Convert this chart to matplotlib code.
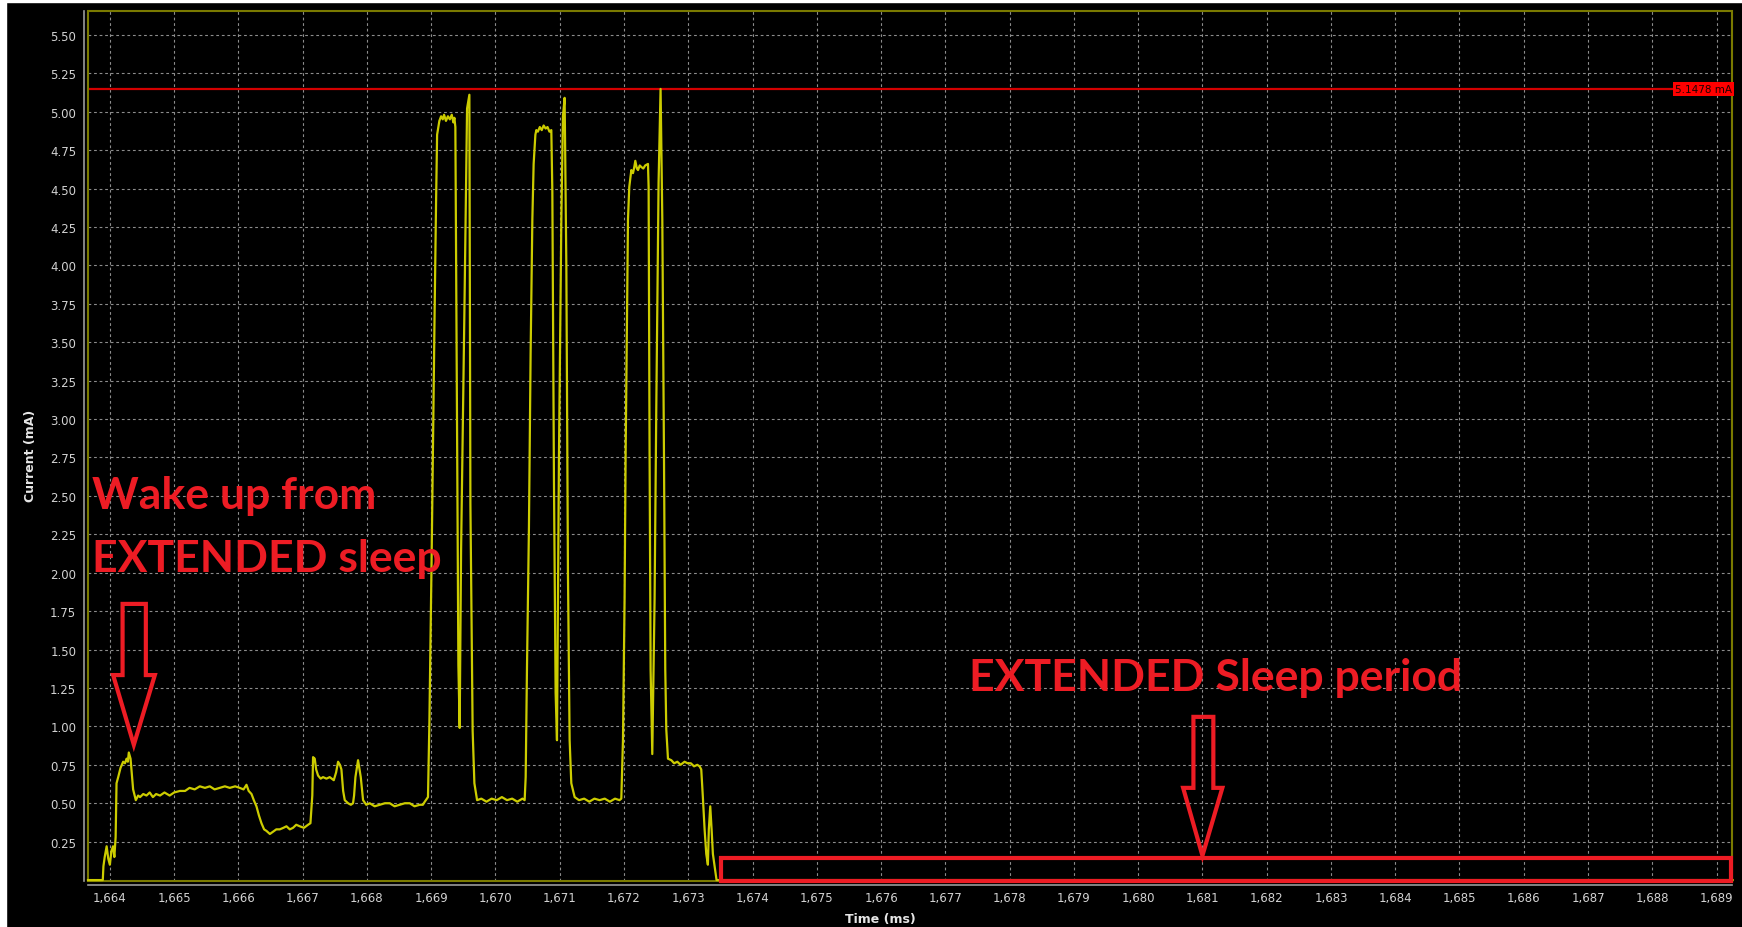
import matplotlib
matplotlib.use("Agg")
import matplotlib.pyplot as plt
from matplotlib.patches import Polygon, Rectangle
from matplotlib.ticker import FuncFormatter

# Current trace (time in ms, current in mA)
time_ms = [
    1663.66, 1663.89, 1663.90, 1663.92, 1663.95, 1663.975, 1664.00, 1664.025, 1664.05, 1664.07,
    1664.09, 1664.104, 1664.13, 1664.166, 1664.207, 1664.235, 1664.26, 1664.28, 1664.295, 1664.322,
    1664.362, 1664.404, 1664.44, 1664.47, 1664.52, 1664.57, 1664.62, 1664.67, 1664.72, 1664.78,
    1664.85, 1664.93, 1665.00, 1665.09, 1665.17, 1665.24, 1665.32, 1665.40, 1665.48, 1665.555,
    1665.63, 1665.71, 1665.79, 1665.866, 1665.95, 1666.02, 1666.08, 1666.126, 1666.16, 1666.204,
    1666.24, 1666.281, 1666.32, 1666.359, 1666.40, 1666.437, 1666.49, 1666.54, 1666.59, 1666.644,
    1666.70, 1666.748, 1666.80, 1666.85, 1666.90, 1666.955, 1667.02, 1667.084, 1667.121, 1667.15,
    1667.162, 1667.188, 1667.21, 1667.24, 1667.28, 1667.317, 1667.37, 1667.421, 1667.484, 1667.52,
    1667.551, 1667.58, 1667.603, 1667.63, 1667.655, 1667.707, 1667.75, 1667.784, 1667.80, 1667.821,
    1667.862, 1667.904, 1667.94, 1667.99, 1668.044, 1668.12, 1668.20, 1668.28, 1668.355, 1668.43,
    1668.51, 1668.59, 1668.666, 1668.74, 1668.821, 1668.87, 1668.90, 1668.95,
    # first burst
    1668.972, 1669.008, 1669.050, 1669.076, 1669.092, 1669.127, 1669.154, 1669.18, 1669.20, 1669.23,
    1669.26, 1669.29, 1669.32, 1669.345, 1669.361, 1669.376, 1669.397, 1669.423, 1669.443, 1669.465,
    1669.516, 1669.558, 1669.594, 1669.610, 1669.645, 1669.672, 1669.714, 1669.78, 1669.86, 1669.94,
    1670.02, 1670.10, 1670.18, 1670.26, 1670.34, 1670.42, 1670.454,
    # second burst
    1670.470, 1670.490, 1670.521, 1670.547, 1670.574, 1670.594, 1670.621, 1670.636, 1670.66, 1670.69,
    1670.72, 1670.75, 1670.78, 1670.81, 1670.84, 1670.869, 1670.885, 1670.910, 1670.936, 1670.957,
    1670.988, 1671.025, 1671.050, 1671.076, 1671.103, 1671.128, 1671.154, 1671.180, 1671.232, 1671.30,
    1671.38, 1671.46, 1671.54, 1671.62, 1671.70, 1671.78, 1671.86, 1671.93, 1671.958,
    # third burst
    1671.984, 1672.009, 1672.025, 1672.047, 1672.062, 1672.082, 1672.114, 1672.140, 1672.16, 1672.176,
    1672.20, 1672.218, 1672.245, 1672.269, 1672.30, 1672.33, 1672.373, 1672.383, 1672.398, 1672.414,
    1672.440, 1672.476, 1672.502, 1672.538, 1672.569, 1672.596, 1672.622, 1672.642, 1672.658, 1672.684,
    1672.736, 1672.78, 1672.83, 1672.88, 1672.942, 1672.99, 1673.04, 1673.09, 1673.14, 1673.176,
    1673.202, 1673.227, 1673.254, 1673.28, 1673.305, 1673.32, 1673.342, 1673.363, 1673.383, 1673.41,
    1673.44, 1689.25,
]
current_ma = [
    0.0, 0.0, 0.09, 0.15, 0.22, 0.14, 0.10, 0.19, 0.22, 0.15,
    0.28, 0.63, 0.67, 0.73, 0.77, 0.76, 0.79, 0.77, 0.83, 0.79,
    0.59, 0.52, 0.55, 0.54, 0.56, 0.55, 0.57, 0.54, 0.56, 0.55,
    0.57, 0.55, 0.57, 0.58, 0.58, 0.60, 0.59, 0.61, 0.60, 0.61,
    0.59, 0.60, 0.61, 0.60, 0.61, 0.60, 0.59, 0.62, 0.58, 0.56,
    0.52, 0.48, 0.42, 0.37, 0.33, 0.32, 0.30, 0.315, 0.33, 0.33,
    0.34, 0.35, 0.33, 0.34, 0.36, 0.35, 0.34, 0.36, 0.37, 0.55,
    0.80, 0.79, 0.72, 0.68, 0.66, 0.67, 0.66, 0.67, 0.65, 0.70,
    0.77, 0.75, 0.72, 0.58, 0.52, 0.50, 0.49, 0.50, 0.55, 0.67,
    0.78, 0.67, 0.52, 0.49, 0.50, 0.48, 0.49, 0.50, 0.50, 0.48,
    0.49, 0.50, 0.50, 0.48, 0.49, 0.49, 0.51, 0.54,
    1.03, 2.14, 3.59, 4.42, 4.85, 4.94, 4.97, 4.95, 4.98, 4.94,
    4.97, 4.95, 4.98, 4.93, 4.96, 4.90, 3.37, 1.40, 0.99, 2.14,
    3.68, 5.02, 5.11, 2.45, 0.97, 0.63, 0.52, 0.53, 0.51, 0.53,
    0.52, 0.54, 0.52, 0.53, 0.51, 0.53, 0.52,
    0.67, 1.37, 2.30, 3.43, 4.30, 4.66, 4.85, 4.88, 4.87, 4.90,
    4.88, 4.91, 4.89, 4.90, 4.87, 4.88, 4.48, 2.60, 1.22, 0.91,
    2.76, 4.30, 4.97, 5.09, 3.99, 1.99, 0.91, 0.63, 0.54, 0.52,
    0.53, 0.51, 0.53, 0.52, 0.53, 0.51, 0.53, 0.52, 0.53,
    0.91, 1.83, 2.76, 3.68, 4.30, 4.51, 4.62, 4.60, 4.64, 4.68,
    4.63, 4.62, 4.65, 4.64, 4.63, 4.65, 4.66, 4.51, 2.76, 1.37,
    0.82, 1.83, 3.06, 4.54, 5.1478, 4.30, 2.76, 1.37, 0.98, 0.79,
    0.78, 0.76, 0.77, 0.75, 0.77, 0.76, 0.76, 0.74, 0.75, 0.74,
    0.72, 0.54, 0.33, 0.17, 0.10, 0.33, 0.48, 0.33, 0.17, 0.09,
    0.0, 0.0,
]

peak_ma = 5.1478
x_ticks = list(range(1664, 1690))
y_ticks = [0.25 * k for k in range(1, 23)]

red = '#ed1c24'
olive = '#7a7a00'

fig = plt.figure(figsize=(17.42, 9.28), dpi=100, facecolor='black')
ax = fig.add_axes([88 / 1742, 46 / 928, 1644 / 1742, 870 / 928])
ax.set_facecolor('black')

ax.plot(time_ms, current_ma, color='#cccc00', lw=1.6, zorder=3, clip_on=False)

# marker line at the peak value
ax.axhline(peak_ma, color='#d40000', lw=1.6, zorder=2)
ax.text(1.0, peak_ma, '%.4f mA' % peak_ma, transform=ax.get_yaxis_transform(),
        ha='right', va='center', fontsize=7.5, color='#200000',
        bbox=dict(boxstyle='square,pad=0.15', fc='#ff0000', ec='none'), zorder=4)

ax.set_xlim(1663.66, 1689.24)
ax.set_ylim(-0.006, 5.655)
ax.set_xticks(x_ticks)
ax.set_yticks(y_ticks)
ax.xaxis.set_major_formatter(FuncFormatter(lambda v, p: '{:,}'.format(int(round(v)))))
ax.yaxis.set_major_formatter(FuncFormatter(lambda v, p: '%.2f' % v))
ax.grid(True, color='#8c8c8c', lw=0.8, ls=(0, (2.5, 2.5)))
ax.set_axisbelow(True)

ax.tick_params(length=0, colors='#d2d2d2', labelsize=8.5)
ax.tick_params(axis='y', pad=5.5)
ax.tick_params(axis='x', pad=4.5)

for side in ['top', 'right']:
    ax.spines[side].set_visible(False)
for side in ['left', 'bottom']:
    ax.spines[side].set_color('#9a9a9a')
    ax.spines[side].set_linewidth(1.2)
    ax.spines[side].set_position(('outward', 3))
ax.add_patch(Rectangle((0, 0), 1, 1, transform=ax.transAxes, fill=False,
                       ec=olive, lw=1.5, clip_on=False, zorder=2.5))

ax.set_xlabel('Time (ms)', color='#e6e6e6', fontsize=9, fontweight='bold')
ax.set_ylabel('Current (mA)', color='#e6e6e6', fontsize=9, fontweight='bold')
ax.xaxis.set_label_coords(0.482, -0.036)
ax.yaxis.set_label_coords(-0.031, 0.49)

# annotations
note_style = dict(color=red, fontsize=32, family='Lato', fontweight='bold',
                  ha='left', va='baseline')
ax.text(1663.72, 2.42, 'Wake up from', **note_style)
ax.text(1663.72, 2.01, 'EXTENDED sleep', **note_style)
ax.text(1677.37, 1.24, 'EXTENDED Sleep period', **note_style)

arrow1 = [(1664.198, 1.797), (1664.560, 1.797), (1664.560, 1.334), (1664.70, 1.334),
          (1664.373, 0.880), (1664.051, 1.334), (1664.198, 1.334)]
arrow2 = [(1680.86, 1.062), (1681.17, 1.062), (1681.17, 0.60), (1681.31, 0.60),
          (1681.0, 0.159), (1680.70, 0.60), (1680.86, 0.60)]
for pts in [arrow1, arrow2]:
    ax.add_patch(Polygon(pts, closed=True, fill=False, ec=red, lw=3,
                         joinstyle='miter', zorder=5, clip_on=False))

ax.add_patch(Rectangle((1673.513, -0.003), 1689.218 - 1673.513, 0.1446, fill=False,
                       ec=red, lw=3, joinstyle='miter', zorder=5, clip_on=False))

# thin white border of the screenshot
fig.add_artist(Rectangle((0, 0), 6 / 1742, 1, transform=fig.transFigure, color='white'))
fig.add_artist(Rectangle((0, 1 - 3 / 928), 1, 3 / 928, transform=fig.transFigure, color='white'))

plt.savefig('out.png', dpi=100, facecolor='black')
